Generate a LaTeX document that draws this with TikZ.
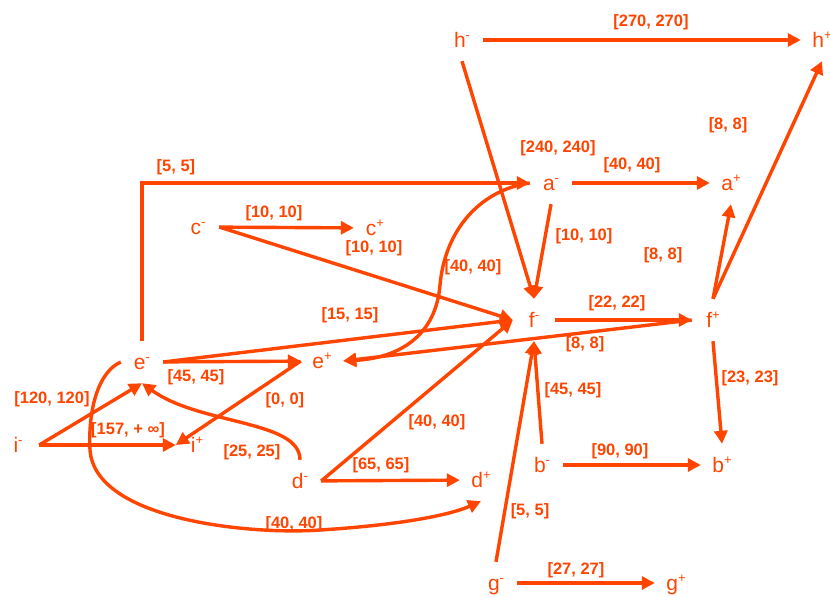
\documentclass[tikz,border=0pt]{standalone}
\usepackage{fontspec}
\setmainfont{Liberation Sans}
\usetikzlibrary{arrows.meta}
\definecolor{ored}{RGB}{255,69,0}
\newcommand\nsup[2]{#1\raisebox{0.40em}{\fontsize{13}{13}\selectfont #2}}
\begin{document}
\begin{tikzpicture}[x=1pt,y=-1pt,
  vert/.style={minimum size=42pt, inner sep=0pt, text height=15pt, text depth=0pt,
    font=\fontsize{21}{21}\selectfont, text=ored},
  lbl/.style={font=\bfseries\fontsize{16.5}{17}\selectfont, text=ored, inner sep=0pt},
  arr/.style={draw=ored, line width=3.4pt, -{Triangle[length=13pt,width=13pt]}}]
\useasboundingbox[fill=white] (0,0) rectangle (830,597);
% vertices
\node[vert] (hm) at (462,40) {\nsup{h}{-}};
\node[vert] (hp) at (822,40) {\nsup{h}{+}};
\node[vert] (am) at (551,183) {\nsup{a}{-}};
\node[vert] (ap) at (731,183) {\nsup{a}{+}};
\node[vert] (cm) at (198,227) {\nsup{c}{-}};
\node[vert] (cp) at (375,228) {\nsup{c}{+}};
\node[vert] (fm) at (534,320) {\nsup{f}{-}};
\node[vert] (fp) at (713,320) {\nsup{f}{+}};
\node[vert] (em) at (142,362) {\nsup{e}{-}};
\node[vert] (ep) at (322,361) {\nsup{e}{+}};
\node[vert] (im) at (18,445) {\nsup{i}{-}};
\node[vert] (ip) at (197,445) {\nsup{i}{+}};
\node[vert] (dm) at (300,481) {\nsup{d}{-}};
\node[vert] (dp) at (481,480) {\nsup{d}{+}};
\node[vert] (bm) at (542,465) {\nsup{b}{-}};
\node[vert] (bp) at (722,465) {\nsup{b}{+}};
\node[vert] (gm) at (496,583) {\nsup{g}{-}};
\node[vert] (gp) at (676,583) {\nsup{g}{+}};
% connectors
\draw[arr] (hm) -- (hp);
\draw[arr] (hm.south) -- (fm.north);
\draw[arr] (am.south) -- (fm.north);
\draw[arr] (am) -- (ap);
\draw[arr] (fp.north) -- (hp.south);
\draw[arr] (fp.north) -- (ap.south);
\draw[arr] (cm) -- (cp);
\draw[arr] (cm.east) -- (fm.west);
\draw[arr] (em.north) |- (am.west);
\draw[arr] (em.east) -- (fm.west);
\draw[arr] (fp.west) -- (ep.east);
\draw[arr] (am.west) .. controls (480,190) and (445,230) .. (440,285)
  .. controls (436,335) and (400,358) .. (ep.east);
\draw[arr] (em) -- (ep);
\draw[arr] (ep.west) -- (ip.west);
\draw[arr] (im.east) -- (em.south);
\draw[arr] (im) -- (ip);
\draw[arr] (dm.north) .. controls (300,420) and (200,425) .. (em.south);
\draw[arr] (em.west) .. controls (98,372) and (88,410) .. (90,450)
  .. controls (95,520) and (250,535) .. (320,530)
  .. controls (400,525) and (450,515) .. (dp.south);
\draw[arr] (dm) -- (dp);
\draw[arr] (dm.east) -- (fm.west);
\draw[arr] (bm.north) -- (fm.south);
\draw[arr] (gm.north) -- (fm.south);
\draw[arr] (fm) -- (fp);
\draw[arr] (fp.south) -- (bp.north);
\draw[arr] (bm) -- (bp);
\draw[arr] (gm) -- (gp);
% labels
\node[lbl] (l1) at (651,22) {[270, 270]};
\node[lbl] (l2) at (558,148) {[240, 240]};
\node[lbl] (l3) at (632,165) {[40, 40]};
\node[lbl] (l4) at (728,125) {[8, 8]};
\node[lbl] (l5) at (176,167) {[5, 5]};
\node[lbl] (l6) at (274,213) {[10, 10]};
\node[lbl] (l7) at (374,248) {[10, 10]};
\node[lbl] (l8) at (473,267) {[40, 40]};
\node[lbl] (l9) at (350,315) {[15, 15]};
\node[lbl] (l10) at (584,236) {[10, 10]};
\node[lbl] (l11) at (663,255) {[8, 8]};
\node[lbl] (l12) at (617,303) {[22, 22]};
\node[lbl] (l13) at (585,344) {[8, 8]};
\node[lbl] (l14) at (573,390) {[45, 45]};
\node[lbl] (l15) at (750,378) {[23, 23]};
\node[lbl] (l16) at (620,451) {[90, 90]};
\node[lbl] (l17) at (530,511) {[5, 5]};
\node[lbl] (l18) at (576,570) {[27, 27]};
\node[lbl] (l19) at (196,377) {[45, 45]};
\node[lbl] (l20) at (52,399) {[120, 120]};
\node[lbl] (l21) at (128,430) {[157, + ∞]};
\node[lbl] (l22) at (285,400) {[0, 0]};
\node[lbl] (l23) at (252,452) {[25, 25]};
\node[lbl] (l24) at (381,465) {[65, 65]};
\node[lbl] (l25) at (294,524) {[40, 40]};
\node[lbl] (l26) at (437,422) {[40, 40]};
\end{tikzpicture}
\end{document}
